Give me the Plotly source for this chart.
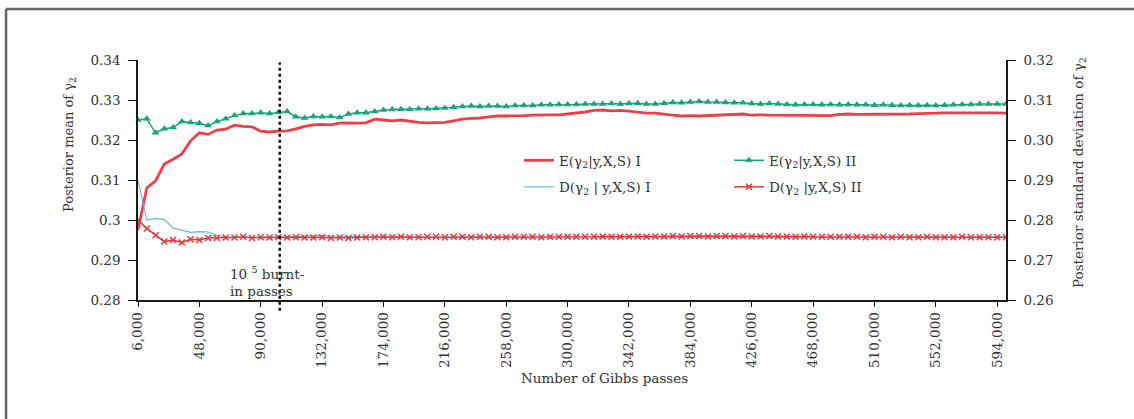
import plotly.graph_objects as go

# Gibbs pass counts (every 6,000 passes)
passes = [6000 * (i + 1) for i in range(100)]

# Posterior mean of gamma_2, run I
mean_run1 = [
    0.2975, 0.3080, 0.3098, 0.3140, 0.3152, 0.3165, 0.3198, 0.3218, 0.3214, 0.3225,
    0.3227, 0.3237, 0.3234, 0.3233, 0.3222, 0.3220, 0.3222, 0.3223, 0.3228, 0.3234,
    0.3238, 0.3239, 0.3238, 0.3242, 0.3243, 0.3242, 0.3243, 0.3252, 0.3250, 0.3248,
    0.3250, 0.3247, 0.3244, 0.3243, 0.3243, 0.3244, 0.3248, 0.3252, 0.3254, 0.3255,
    0.3258, 0.3260, 0.3260, 0.3260, 0.3261, 0.3262, 0.3263, 0.3263, 0.3263, 0.3265,
    0.3268, 0.3270, 0.3274, 0.3275, 0.3273, 0.3274, 0.3272, 0.3270, 0.3267, 0.3267,
    0.3264, 0.3262, 0.3260, 0.3261, 0.3260, 0.3261, 0.3262, 0.3264, 0.3265, 0.3265,
    0.3262, 0.3263, 0.3262, 0.3262, 0.3261, 0.3262, 0.3261, 0.3262, 0.3262, 0.3261,
    0.3264, 0.3265, 0.3264, 0.3264, 0.3264, 0.3264, 0.3264, 0.3265, 0.3265, 0.3266,
    0.3266, 0.3267, 0.3268, 0.3268, 0.3269, 0.3269, 0.3269, 0.3268, 0.3268, 0.3267,
]

# Posterior mean of gamma_2, run II
mean_run2 = [
    0.3250, 0.3253, 0.3218, 0.3228, 0.3231, 0.3246, 0.3244, 0.3242, 0.3236, 0.3246,
    0.3253, 0.3261, 0.3266, 0.3266, 0.3268, 0.3266, 0.3269, 0.3271, 0.3258, 0.3255,
    0.3259, 0.3258, 0.3259, 0.3256, 0.3265, 0.3268, 0.3268, 0.3271, 0.3275, 0.3276,
    0.3277, 0.3277, 0.3278, 0.3278, 0.3279, 0.3280, 0.3282, 0.3284, 0.3285, 0.3284,
    0.3285, 0.3285, 0.3284, 0.3286, 0.3286, 0.3286, 0.3288, 0.3288, 0.3289, 0.3289,
    0.3289, 0.3290, 0.3290, 0.3290, 0.3291, 0.3290, 0.3291, 0.3292, 0.3290, 0.3290,
    0.3292, 0.3294, 0.3293, 0.3295, 0.3296, 0.3295, 0.3295, 0.3294, 0.3293, 0.3293,
    0.3291, 0.3290, 0.3291, 0.3290, 0.3289, 0.3288, 0.3289, 0.3289, 0.3288, 0.3289,
    0.3288, 0.3289, 0.3288, 0.3288, 0.3287, 0.3288, 0.3287, 0.3286, 0.3287, 0.3286,
    0.3287, 0.3286, 0.3287, 0.3288, 0.3289, 0.3289, 0.3290, 0.3290, 0.3290, 0.3290,
]

# Posterior standard deviation of gamma_2, run I
sd_run1 = [
    0.2900, 0.2800, 0.2804, 0.2801, 0.2780, 0.2774, 0.2769, 0.2771, 0.2770, 0.2762,
    0.2758, 0.2757, 0.2757, 0.2757, 0.2756, 0.2757, 0.2757, 0.2758, 0.2759, 0.2760,
    0.2760, 0.2761, 0.2760, 0.2760, 0.2759, 0.2759, 0.2758, 0.2758, 0.2758, 0.2757,
    0.2757, 0.2756, 0.2757, 0.2756, 0.2756, 0.2757, 0.2756, 0.2756, 0.2756, 0.2755,
    0.2756, 0.2756, 0.2755, 0.2756, 0.2756, 0.2755, 0.2755, 0.2756, 0.2756, 0.2755,
    0.2755, 0.2756, 0.2755, 0.2755, 0.2755, 0.2756, 0.2755, 0.2755, 0.2755, 0.2755,
    0.2755, 0.2755, 0.2756, 0.2755, 0.2755, 0.2755, 0.2755, 0.2755, 0.2756, 0.2755,
    0.2755, 0.2755, 0.2755, 0.2756, 0.2755, 0.2755, 0.2755, 0.2755, 0.2756, 0.2756,
    0.2755, 0.2756, 0.2756, 0.2756, 0.2756, 0.2756, 0.2756, 0.2756, 0.2757, 0.2756,
    0.2756, 0.2756, 0.2757, 0.2756, 0.2756, 0.2757, 0.2757, 0.2757, 0.2757, 0.2757,
]

# Posterior standard deviation of gamma_2, run II
sd_run2 = [
    0.2800, 0.2779, 0.2762, 0.2746, 0.2750, 0.2744, 0.2752, 0.2750, 0.2755, 0.2755,
    0.2756, 0.2756, 0.2758, 0.2755, 0.2757, 0.2756, 0.2757, 0.2756, 0.2757, 0.2756,
    0.2756, 0.2757, 0.2755, 0.2756, 0.2755, 0.2756, 0.2757, 0.2757, 0.2758, 0.2757,
    0.2758, 0.2757, 0.2757, 0.2758, 0.2758, 0.2757, 0.2758, 0.2758, 0.2757, 0.2758,
    0.2758, 0.2757, 0.2757, 0.2758, 0.2758, 0.2758, 0.2757, 0.2758, 0.2758, 0.2758,
    0.2758, 0.2758, 0.2758, 0.2759, 0.2758, 0.2758, 0.2759, 0.2759, 0.2758, 0.2759,
    0.2759, 0.2760, 0.2759, 0.2760, 0.2760, 0.2759, 0.2760, 0.2760, 0.2759, 0.2760,
    0.2759, 0.2759, 0.2760, 0.2759, 0.2759, 0.2758, 0.2759, 0.2758, 0.2758, 0.2758,
    0.2758, 0.2758, 0.2758, 0.2757, 0.2758, 0.2758, 0.2757, 0.2758, 0.2757, 0.2757,
    0.2758, 0.2757, 0.2757, 0.2757, 0.2758, 0.2757, 0.2757, 0.2757, 0.2757, 0.2757,
]

x_ticks = [6000 + 42000 * k for k in range(15)]
x_tick_text = [f"{v:,}" for v in x_ticks]
left_ticks = [0.28, 0.29, 0.30, 0.31, 0.32, 0.33, 0.34]
left_tick_text = ["0.28", "0.29", "0.3", "0.31", "0.32", "0.33", "0.34"]
right_ticks = [0.26, 0.27, 0.28, 0.29, 0.30, 0.31, 0.32]
right_tick_text = ["0.26", "0.27", "0.28", "0.29", "0.30", "0.31", "0.32"]

burn_in = 103000

FONT = "DejaVu Serif"
TXT = "#333333"
AX = "#1a1a1a"

fig = go.Figure()

fig.add_trace(go.Scatter(
    x=passes, y=mean_run1, mode="lines", name="E(γ<sub>2</sub>|y,X,S) I",
    line=dict(color="#ef3e47", width=2.8), legend="legend", legendgroup="a",
    yaxis="y",
))
fig.add_trace(go.Scatter(
    x=passes, y=sd_run1, mode="lines", name="D(γ<sub>2</sub> | y,X,S) I",
    line=dict(color="#5db7e8", width=1.1), legend="legend", legendgroup="b",
    yaxis="y2",
))
fig.add_trace(go.Scatter(
    x=passes, y=mean_run2, mode="lines+markers", name="E(γ<sub>2</sub>|y,X,S) II",
    line=dict(color="#17a67b", width=1.5),
    marker=dict(symbol="triangle-up", size=7, color="#17a67b"),
    legend="legend2", legendgroup="c", yaxis="y",
))
fig.add_trace(go.Scatter(
    x=passes, y=sd_run2, mode="lines+markers", name="D(γ<sub>2</sub> |y,X,S) II",
    line=dict(color="#e8363a", width=1.5),
    marker=dict(symbol="x-thin", size=6, line=dict(color="#e8363a", width=1.4)),
    legend="legend2", legendgroup="d", yaxis="y2",
))

axis_common = dict(
    showline=True, linecolor=AX, linewidth=1.5, showgrid=False, zeroline=False,
    tickcolor=AX, tickwidth=1.2,
    tickfont=dict(family=FONT, size=13.5, color=TXT),
)

legend_style = dict(
    xanchor="left", yanchor="top", bgcolor="rgba(0,0,0,0)",
    font=dict(family=FONT, size=13.5, color=TXT), tracegroupgap=6,
)

fig.update_layout(
    width=1134, height=419,
    margin=dict(l=138, r=128, t=60, b=119),
    paper_bgcolor="white", plot_bgcolor="white",
    font=dict(family=FONT, color=TXT),
    xaxis=dict(
        range=[6000, 600000], tickvals=x_ticks, ticktext=x_tick_text,
        tickangle=-90, ticks="outside", ticklen=5, **axis_common,
    ),
    xaxis2=dict(
        range=[6000, 600000], overlaying="x", anchor="y", side="bottom",
        tickvals=x_ticks, showticklabels=False, ticks="inside", ticklen=5,
        **axis_common,
    ),
    yaxis=dict(
        range=[0.28, 0.34], tickvals=left_ticks, ticktext=left_tick_text,
        ticks="outside", ticklen=8, ticklabelstandoff=5, **axis_common,
    ),
    yaxis3=dict(
        range=[0.28, 0.34], overlaying="y", anchor="x", side="left",
        tickvals=left_ticks, showticklabels=False, ticks="inside", ticklen=8,
        **axis_common,
    ),
    yaxis2=dict(
        range=[0.26, 0.32], overlaying="y", anchor="x", side="right",
        tickvals=right_ticks, ticktext=right_tick_text,
        ticks="outside", ticklen=8, ticklabelstandoff=5, **axis_common,
    ),
    yaxis4=dict(
        range=[0.26, 0.32], overlaying="y", anchor="x", side="right",
        tickvals=right_ticks, showticklabels=False, ticks="inside", ticklen=8,
        **axis_common,
    ),
    legend=dict(x=(519 - 138) / 868, y=(300 - 145) / 240, **legend_style),
    legend2=dict(x=(729 - 138) / 868, y=(300 - 145) / 240, **legend_style),
    showlegend=True,
)

# burn-in marker
fig.add_shape(
    type="line", xref="x", yref="paper", x0=burn_in, x1=burn_in,
    y0=-0.045, y1=0.99, line=dict(color="#111111", width=2.5, dash="dot"),
)

# page frame lines
fig.add_shape(
    type="line", xref="paper", yref="paper", x0=-0.152, x1=1.15,
    y0=1.2125, y1=1.2125, line=dict(color="#666666", width=2.5),
)
fig.add_shape(
    type="line", xref="paper", yref="paper", x0=-0.152, x1=-0.152,
    y0=1.2125, y1=-0.5, line=dict(color="#666666", width=2.5),
)

fig.add_annotation(
    text="10 <sup>5</sup> burnt-<br>in passes", xref="paper", yref="paper",
    x=(228 - 138) / 868, y=(300 - 262) / 240, xanchor="left", yanchor="top",
    showarrow=False, align="left", font=dict(family=FONT, size=13.5, color=TXT),
)
fig.add_annotation(
    text="Number of Gibbs passes", xref="paper", yref="paper",
    x=(604 - 138) / 868, y=(300 - 378) / 240, xanchor="center", yanchor="middle",
    showarrow=False, font=dict(family=FONT, size=13.5, color=TXT),
)
fig.add_annotation(
    text="Posterior mean of γ<sub>2</sub>", xref="paper", yref="paper",
    x=(69 - 138) / 868, y=(300 - 145) / 240, xanchor="center", yanchor="middle",
    textangle=-90, showarrow=False, font=dict(family=FONT, size=13, color=TXT),
)
fig.add_annotation(
    text="Posterior standard deviation of γ<sub>2</sub>", xref="paper", yref="paper",
    x=(1079 - 138) / 868, y=(300 - 173) / 240, xanchor="center", yanchor="middle",
    textangle=-90, showarrow=False, font=dict(family=FONT, size=13.5, color=TXT),
)

fig.write_html("out.html")
